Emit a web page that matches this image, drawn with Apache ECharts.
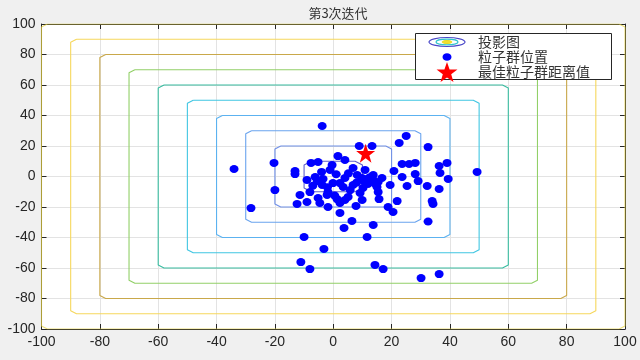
<!DOCTYPE html>
<html><head><meta charset="utf-8">
<script src="https://cdn.jsdelivr.net/npm/echarts@6/dist/echarts.min.js"></script>
<style>html,body{margin:0;padding:0;background:#f0f0f0}#c{width:640px;height:360px}</style>
</head><body><div id="c"></div>
<script>
const titleText = '第3次迭代';
const legendNames = ['投影图', '粒子群位置', '最佳粒子群距离值'];
const contourLevels = [10, 20, 30, 40, 50, 60, 70, 80, 90, 100];
const swarmX = [-3.8,25.0,22.6,8.9,13.3,32.5,1.6,4.0,-20.3,-7.6,-5.2,-0.4,6.8,-34.0,23.6,26.0,28.1,36.3,39.0,49.3,
  -13.1,-13.1,20.8,36.6,13.7,-6.2,23.6,28.1,39.4,-9.0,-3.5,-0.1,11.6,13.7,29.1,19.5,25.3,32.2,-20.0,-8.0,
  -1.8,3.4,6.8,10.2,15.0,36.3,-5.2,1.3,5.1,15.7,21.9,33.9,34.2,-12.4,-9.0,-1.8,2.3,7.8,-28.2,18.8,
  20.5,2.3,32.5,6.4,3.7,13.7,-10.0,11.6,-3.2,-11.1,-8.0,14.3,17.1,30.1,36.3,8.2,9.9,11.9,15.4,16.7,
  4.0,2.3,5.8,9.2,-3.8,-2.1,-11.4,-4.6,4.0,9.9,10.9,15.4,-1.1,5.2,
  12.5,10.5,14.5,8.0,-5.5,-2.0,-7.0,1.0,-4.0,0.5];
const swarmY = [33.1,26.6,22.0,20.0,20.0,19.3,13.4,10.8,8.9,8.9,9.5,7.5,5.6,4.9,8.2,8.2,8.9,6.9,8.9,3.0,
  3.6,1.6,3.6,2.3,1.0,-0.3,-0.3,1.6,-1.6,-2.3,-1.6,-4.3,-1.6,-2.3,-3.0,-5.6,-6.2,-6.2,-8.9,-10.2,
  -10.2,-6.9,-5.6,-7.5,-6.9,-8.2,-14.1,-14.8,-13.4,-14.8,-16.1,-16.1,-18.0,-18.0,-16.7,-20.0,-17.4,-19.3,-20.7,-20.0,
  -23.3,-23.9,-29.5,-29.2,-33.8,-31.8,-39.7,-39.7,-47.5,-56.1,-60.7,-58.0,-60.7,-66.6,-64.0,1.0,-1.0,-4.9,-3.6,-1.0,
  -1.0,-4.3,-8.9,-10.8,-5.6,-12.1,-12.1,-17.4,-15.4,-15.4,4.3,-10.2,4.3,2.1,
  -0.5,-3.0,-5.0,-4.0,-3.0,-7.0,-6.0,1.5,3.0,-12.5];
const bestX = [11.1];
const bestY = [15.2];

const contourColors = ['#5f5fcc','#6f8fe6','#6aa4ee','#5cb2f0','#40c6e2','#38bca0','#92d068','#c9a84a','#f6d75c','#e6d23e'];
const STAR = 'path://M50,0 L61.8,35.1 L98.1,35.1 L68.7,56.7 L79.4,91.9 L50,70 L20.6,91.9 L31.3,56.7 L1.9,35.1 L38.2,35.1 Z';

function squareContour(L, c) {
  return [[-L + c, L], [L - c, L], [L, L - c], [L, -L + c], [L - c, -L], [-L + c, -L], [-L, -L + c], [-L, L - c], [-L + c, L]];
}

const series = [];
contourLevels.forEach((L, i) => {
  series.push({
    type: 'line', data: squareContour(L, L === 10 ? 2.5 : 2), symbol: 'none', silent: true,
    lineStyle: { color: contourColors[i], width: 1.1, opacity: L === 100 ? 0.7 : 1 }, z: 3, animation: false
  });
});
series.push({
  type: 'scatter', name: legendNames[1], data: swarmX.map((x, i) => [x, swarmY[i]]),
  symbol: 'circle', symbolSize: [9, 8], itemStyle: { color: '#0000ff', opacity: 1 }, z: 5, animation: false
});
series.push({
  type: 'scatter', name: legendNames[2], data: bestX.map((x, i) => [x, bestY[i]]),
  symbol: STAR, symbolSize: 19, itemStyle: { color: '#ff0000', opacity: 1 }, z: 6, animation: false
});

const axisFont = { fontFamily: 'Liberation Sans', fontSize: 14, color: '#262626' };
function mkAxis(pos, labels) {
  return {
    type: 'value', min: -100, max: 100, interval: 20, position: pos,
    axisLine: { show: true, onZero: false, lineStyle: { color: '#262626', width: 1 } },
    axisTick: { show: true, inside: true, length: 5, lineStyle: { color: '#262626' } },
    axisLabel: Object.assign({ show: labels, margin: 6 }, axisFont),
    splitLine: { show: labels, lineStyle: { color: '#e3e3e3', width: 1 } }
  };
}

function starPoints(cx, cy, R) {
  const pts = [];
  const r = R * 0.4;
  for (let k = 0; k < 10; k++) {
    const a = -Math.PI / 2 + k * Math.PI / 5;
    const rr = k % 2 === 0 ? R : r;
    pts.push([cx + rr * Math.cos(a), cy + rr * Math.sin(a)]);
  }
  return pts;
}

const legendFont = '14px "Noto Sans CJK SC"';
const graphic = [
  { type: 'rect', shape: { x: 415.5, y: 33.5, width: 196, height: 46 }, style: { fill: '#ffffff', stroke: '#262626', lineWidth: 1 }, z: 100 },
  { type: 'ellipse', shape: { cx: 447, cy: 42, rx: 18, ry: 4.5 }, style: { fill: 'none', stroke: '#4a48c8', lineWidth: 1.2 }, z: 101 },
  { type: 'ellipse', shape: { cx: 447, cy: 42, rx: 11, ry: 2.8 }, style: { fill: 'none', stroke: '#30c4cc', lineWidth: 1.2 }, z: 101 },
  { type: 'ellipse', shape: { cx: 447, cy: 42, rx: 5, ry: 1.5 }, style: { fill: '#f0e030', stroke: '#e8d820', lineWidth: 1 }, z: 101 },
  { type: 'ellipse', shape: { cx: 447, cy: 57, rx: 4.5, ry: 3.8 }, style: { fill: '#0000ff' }, z: 101 },
  { type: 'polygon', shape: { points: starPoints(447, 73, 11) }, style: { fill: '#ff0000' }, z: 101 },
  { type: 'text', x: 478, y: 42, style: { text: legendNames[0], font: legendFont, fill: '#333333', textVerticalAlign: 'middle', verticalAlign: 'middle' }, z: 101 },
  { type: 'text', x: 478, y: 57, style: { text: legendNames[1], font: legendFont, fill: '#333333', textVerticalAlign: 'middle', verticalAlign: 'middle' }, z: 101 },
  { type: 'text', x: 478, y: 72, style: { text: legendNames[2], font: legendFont, fill: '#333333', textVerticalAlign: 'middle', verticalAlign: 'middle' }, z: 101 }
];

const chart = echarts.init(document.getElementById('c'), null, { renderer: 'canvas' });
chart.setOption({
  backgroundColor: '#f0f0f0',
  animation: false,
  title: {
    text: titleText, left: 333, top: 2, textAlign: 'center',
    textStyle: { fontFamily: 'Noto Sans CJK SC', fontSize: 13, fontWeight: 'normal', color: '#333333' }
  },
  grid: { left: 41.5, right: 15, top: 24, bottom: 31, show: true, backgroundColor: '#ffffff', borderWidth: 0 },
  xAxis: [mkAxis('bottom', true), mkAxis('top', false)],
  yAxis: [mkAxis('left', true), mkAxis('right', false)],
  series: series,
  graphic: graphic
});
</script>
</body></html>
